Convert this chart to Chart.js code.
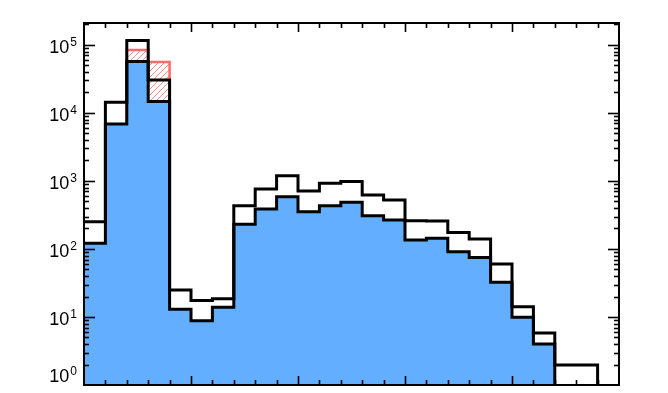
<!DOCTYPE html>
<html>
<head>
<meta charset="utf-8">
<script src="https://cdn.jsdelivr.net/npm/chart.js@4/dist/chart.umd.min.js"></script>
<style>
  html, body { margin: 0; padding: 0; background: #fff; }
  canvas { display: block; }
</style>
</head>
<body>
<canvas id="c" width="668" height="393"></canvas>
<script>
// ---- data (25 equal-width bins, counts) ----
const binCount = 25;
const totalCounts = [252, 14350, 116000, 30500, 25, 17.4, 18.6, 433, 763, 1197, 713, 925, 978, 623, 526, 261, 257, 174, 140, 60, 14.2, 5.8, 1.97, 1.97, 0];
const blueCounts  = [121, 6890, 57000, 14700, 13, 8.8, 13.9, 231, 387, 588, 354, 433, 486, 309, 267, 136, 144, 91, 75, 32.4, 9.9, 4.0, 0, 0, 0];
const redCounts   = [0, 0, 84000, 56000, 0, 0, 0, 0, 0, 0, 0, 0, 0, 0, 0, 0, 0, 0, 0, 0, 0, 0, 0, 0, 0];
const yTickExponents = [0, 1, 2, 3, 4, 5];
const yMin = 1, yMax = 2.1e5;

// empty bins are drawn just below the bottom of the log axis (clipped away)
function steps(arr) {
  const val = v => (v > 0 ? v : 0.1);
  const pts = arr.map((v, i) => ({ x: i, y: val(v) }));
  pts.push({ x: arr.length, y: val(arr[arr.length - 1]) });
  return pts;
}

// hatching under the red histogram, clipped to the area below its step line
const hatchPlugin = {
  id: 'hatch',
  beforeDatasetDraw(chart, args) {
    if (chart.data.datasets[args.index].label !== 'red') return;
    const { ctx, chartArea: a } = chart;
    const pts = args.meta.data;
    ctx.save();
    ctx.beginPath();
    ctx.rect(a.left, a.top, a.right - a.left, a.bottom - a.top);
    ctx.clip();
    ctx.beginPath();
    ctx.moveTo(pts[0].x, a.bottom);
    for (let i = 0; i < pts.length - 1; i++) {
      ctx.lineTo(pts[i].x, pts[i].y);
      ctx.lineTo(pts[i + 1].x, pts[i].y);
    }
    ctx.lineTo(pts[pts.length - 1].x, a.bottom);
    ctx.closePath();
    ctx.clip();
    ctx.strokeStyle = 'rgb(255,140,140)';
    ctx.lineWidth = 1;
    const H = a.bottom - a.top;
    ctx.beginPath();
    for (let k = -H; k < a.right - a.left + 6; k += 6) {
      ctx.moveTo(a.left + k, a.bottom);
      ctx.lineTo(a.left + k + H, a.top);
    }
    ctx.stroke();
    ctx.restore();
  }
};

const framePlugin = {
  id: 'frame',
  afterDraw(chart) {
    const { ctx, chartArea: a, scales: { x, y } } = chart;
    ctx.save();
    ctx.strokeStyle = '#000';
    ctx.lineCap = 'butt';
    ctx.lineWidth = 1.6;
    const seg = (x1, y1, x2, y2) => { ctx.beginPath(); ctx.moveTo(x1, y1); ctx.lineTo(x2, y2); ctx.stroke(); };
    // x ticks (inward, top and bottom)
    for (let t = 1; t < binCount; t++) {
      const px = Math.round(x.getPixelForValue(t)) + 0.5;
      const len = t % 5 === 0 ? 9 : 5;
      seg(px, a.bottom, px, a.bottom - len);
      seg(px, a.top, px, a.top + len);
    }
    // y ticks (inward, left and right)
    for (const e of yTickExponents) {
      for (let m = 1; m <= 9; m++) {
        const v = m * Math.pow(10, e);
        if (v <= yMin || v > yMax) continue;
        const py = Math.round(y.getPixelForValue(v)) + 0.5;
        const len = m === 1 ? 11 : 5;
        seg(a.left, py, a.left + len, py);
        seg(a.right, py, a.right - len, py);
      }
    }
    // frame
    ctx.lineWidth = 2;
    ctx.strokeRect(a.left, a.top, a.right - a.left, a.bottom - a.top);
    // y labels 10^e
    ctx.fillStyle = '#000';
    ctx.textBaseline = 'alphabetic';
    const rightEdge = a.left - 7;
    for (const e of yTickExponents) {
      const py = y.getPixelForValue(Math.pow(10, e));
      let base = py + 8;
      if (base > a.bottom - 3) base = a.bottom - 3;
      ctx.font = '12px "Liberation Sans", Arial, sans-serif';
      ctx.textAlign = 'right';
      const expStr = String(e);
      const ew = ctx.measureText(expStr).width;
      ctx.fillText(expStr, rightEdge, base - 7);
      ctx.font = '18px "Liberation Sans", Arial, sans-serif';
      ctx.fillText('10', rightEdge - ew - 1, base);
    }
    ctx.restore();
  }
};

new Chart(document.getElementById('c'), {
  type: 'line',
  data: {
    datasets: [
      {
        label: 'total',
        data: steps(totalCounts),
        stepped: 'before',
        borderColor: '#000',
        borderWidth: 3,
        borderJoinStyle: 'miter',
        fill: false,
        pointRadius: 0
      },
      {
        label: 'blue',
        data: steps(blueCounts),
        stepped: 'before',
        borderColor: '#000',
        borderWidth: 3,
        borderJoinStyle: 'miter',
        backgroundColor: 'rgb(99,174,255)',
        fill: 'start',
        pointRadius: 0
      },
      {
        label: 'red',
        data: steps(redCounts),
        stepped: 'before',
        borderColor: 'rgb(255,105,105)',
        borderWidth: 2.5,
        borderJoinStyle: 'miter',
        fill: false,
        pointRadius: 0
      }
    ]
  },
  options: {
    responsive: false,
    animation: false,
    devicePixelRatio: 1,
    layout: { padding: { left: 84, top: 23, right: 49, bottom: 8 } },
    plugins: { legend: { display: false }, tooltip: { enabled: false } },
    scales: {
      x: { type: 'linear', min: 0, max: binCount, display: false },
      y: { type: 'logarithmic', min: yMin, max: yMax, bounds: 'data', display: false }
    }
  },
  plugins: [hatchPlugin, framePlugin]
});
</script>
</body>
</html>
